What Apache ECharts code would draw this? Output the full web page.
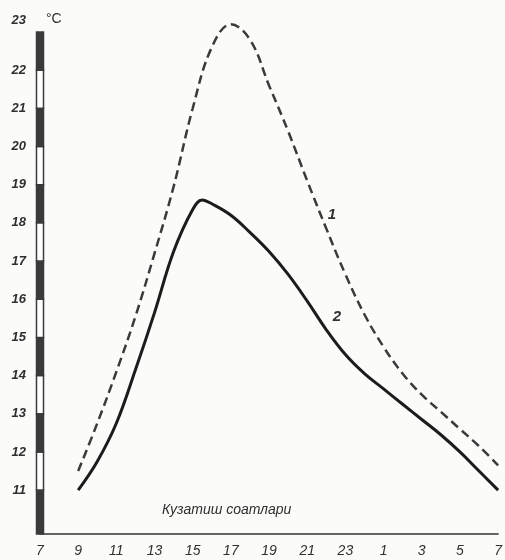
<!DOCTYPE html>
<html><head><meta charset="utf-8">
<script src="https://cdn.jsdelivr.net/npm/echarts@6/dist/echarts.min.js"></script>
<style>html,body{margin:0;padding:0;background:#fbfbfa}#c{width:505px;height:560px}</style>
</head><body><div id="c"></div>
<script>
// observation hours (25..31 = 1..7 of the next day)
const hours1 = [9,10,11,12,13,14,15,16,17,18,19,20,21,22,23,24,25,26,27,28,29,30,31];
// curve 1 (dashed)
const curve1 = [11.5,12.75,14.1,15.55,17.2,18.95,21.0,22.6,23.2,22.8,21.6,20.4,19.1,17.85,16.65,15.6,14.75,14.05,13.5,13.05,12.6,12.15,11.65];
const hours2 = [9,10,11,12,13,14,15,15.5,16,17,18,19,20,21,22,23,24,25,26,27,28,29,30,31];
// curve 2 (solid)
const curve2 = [11.0,11.75,12.75,14.15,15.65,17.25,18.35,18.6,18.5,18.2,17.75,17.25,16.65,15.95,15.2,14.55,14.05,13.65,13.25,12.85,12.45,12.0,11.5,11.0];
const xTicks = [7,9,11,13,15,17,19,21,23,25,27,29,31];
const xTickLabels = ['7','9','11','13','15','17','19','21','23','1','3','5','7'];
const yTicks = [11,12,13,14,15,16,17,18,19,20,21,22,23];
// thermometer-like scale bar segments on the y axis
const scaleEdges = [9.85,11,12,13,14,15,16,17,18,19,20,21,22,23];
const xTitle = 'Кузатиш соатлари';

const ink = '#2f2f2f';
const bands = [];
for (let i = 0; i < scaleEdges.length - 1; i++) bands.push([7, scaleEdges[i], scaleEdges[i+1], i % 2]);

const chart = echarts.init(document.getElementById('c'), null, {renderer:'canvas'});
chart.setOption({
  backgroundColor: '#fbfbfa',
  animation: false,
  title: {
    text: xTitle, left: 157, top: 498,
    textStyle: {fontSize: 14, fontStyle: 'italic', fontWeight: 'normal', color: ink, fontFamily: 'Liberation Sans'}
  },
  grid: {left: 40, right: 5, top: 32, bottom: 26},
  xAxis: {
    type: 'value', min: 7, max: 31, interval: 2,
    axisLine: {show: true, lineStyle: {color: '#333', width: 1.5}},
    axisTick: {show: false}, splitLine: {show: false},
    axisLabel: {
      margin: 10, fontSize: 14, fontStyle: 'italic', color: ink, fontFamily: 'Liberation Sans',
      formatter: v => { const i = xTicks.indexOf(v); return i >= 0 ? xTickLabels[i] : ''; }
    }
  },
  yAxis: {
    type: 'value', min: 9.85, max: 23,
    name: '°C', nameLocation: 'end', nameGap: 6,
    nameTextStyle: {align: 'left', padding: [0,0,0,6], fontSize: 14, color: ink, fontFamily: 'Liberation Sans'},
    axisLine: {show: false}, axisTick: {show: false}, splitLine: {show: false},
    axisLabel: {
      customValues: yTicks, margin: 14, fontSize: 13, fontStyle: 'italic', fontWeight: 'bold', color: ink,
      fontFamily: 'Liberation Sans',
      formatter: v => v === 23 ? '{top|23}' : String(v),
      rich: {top: {padding: [0,0,24,0], fontSize: 13, fontStyle: 'italic', fontWeight: 'bold', color: ink, fontFamily: 'Liberation Sans'}}
    }
  },
  series: [
    {
      type: 'custom', silent: true, clip: false, z: 5,
      data: bands, encode: {x: 0, y: [1, 2]},
      renderItem: (params, api) => {
        const t = api.coord([api.value(0), api.value(2)]);
        const b = api.coord([api.value(0), api.value(1)]);
        return {type: 'rect', shape: {x: t[0] - 3.5, y: t[1], width: 7, height: b[1] - t[1]},
          style: {fill: api.value(3) ? '#ffffff' : '#3a3a3a', stroke: '#3a3a3a', lineWidth: 1.5}};
      }
    },
    {
      name: '1', type: 'line', smooth: 0.4, symbol: 'none', clip: false,
      data: hours1.map((h, i) => [h, curve1[i]]),
      lineStyle: {color: '#3a3a3a', width: 2.5, type: [9, 5]},
      markPoint: {
        symbol: 'circle', symbolSize: 0,
        data: [{coord: [22.3, 18.2]}],
        label: {show: true, position: 'inside', formatter: '1', fontSize: 15, fontStyle: 'italic', fontWeight: 'bold', color: ink}
      }
    },
    {
      name: '2', type: 'line', smooth: 0.4, symbol: 'none', clip: false,
      data: hours2.map((h, i) => [h, curve2[i]]),
      lineStyle: {color: '#1c1c1c', width: 3},
      markPoint: {
        symbol: 'circle', symbolSize: 0,
        data: [{coord: [22.55, 15.55]}],
        label: {show: true, position: 'inside', formatter: '2', fontSize: 15, fontStyle: 'italic', fontWeight: 'bold', color: ink}
      }
    }
  ]
});
</script></body></html>
